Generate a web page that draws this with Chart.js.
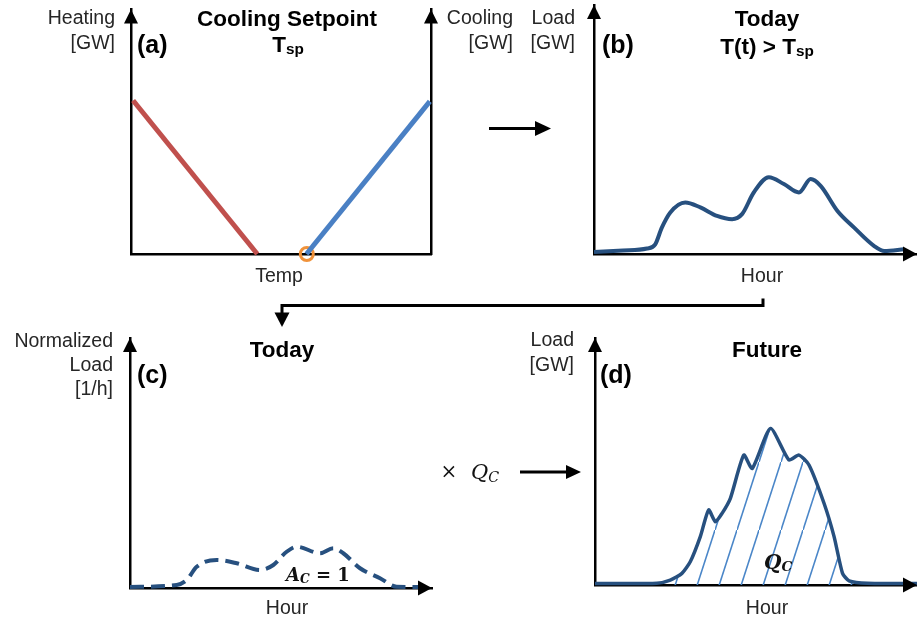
<!DOCTYPE html>
<html>
<head>
<meta charset="utf-8">
<script src="https://cdn.jsdelivr.net/npm/chart.js@4.4.1/dist/chart.umd.min.js"></script>
<style>
  body { margin: 0; width: 917px; height: 624px; overflow: hidden; background: #fff; position: relative;
         font-family: "Liberation Sans", Arial, sans-serif; }
  canvas { position: absolute; }
  .txt { position: absolute; white-space: nowrap; line-height: 1; color: #262626; }
  .ttl { font-weight: bold; color: #000; }
  .math { font-family: "DejaVu Serif", serif; color: #111; }
  .sub { font-size: 0.68em; position: relative; top: 0.16em; }
  svg { position: absolute; left: 0; top: 0; }
</style>
</head>
<body>
<canvas id="chartA" width="324" height="266" style="left:119px;top:0px"></canvas>
<canvas id="chartB" width="347" height="266" style="left:582px;top:0px"></canvas>
<canvas id="chartC" width="326" height="274" style="left:118px;top:326px"></canvas>
<canvas id="chartD" width="346" height="271" style="left:583px;top:326px"></canvas>

<svg width="917" height="624">
  <line x1="489" y1="128.5" x2="538" y2="128.5" stroke="#000" stroke-width="3"/>
  <polygon points="551,128.5 535,121 535,136" fill="#000"/>
  <polyline points="763,298.5 763,305.5 282,305.5 282,314" fill="none" stroke="#000" stroke-width="3"/>
  <polygon points="282,327 274.5,312.5 289.5,312.5" fill="#000"/>
  <line x1="520" y1="472" x2="568" y2="472" stroke="#000" stroke-width="3"/>
  <polygon points="581,472 566,465 566,479" fill="#000"/>
</svg>

<script>
// (a) heating / cooling response around the setpoint
const heatTemp = [0.7, 42.1];
const heatLoad = [6.28, 0];
const coolTemp = [58.5, 99.6];
const coolLoad = [0, 6.24];
const setpointTemp = 58.6;

// (b) today's cooling load by hour
const hoursB = [0, 2.16, 3.93, 4.55, 5.04, 5.67, 6.78, 7.9, 9.14, 10.26, 11.0, 11.87, 12.99, 14.11, 15.23, 16.1, 16.84, 18.09, 19.33, 20.82, 21.57, 23.05];
const loadB = [0.08, 0.14, 0.22, 0.39, 1.06, 1.67, 2.07, 1.87, 1.53, 1.40, 1.60, 2.47, 3.08, 2.81, 2.47, 3.01, 2.74, 1.73, 1.06, 0.32, 0.12, 0.19];

// (c) normalized profile (area = 1)
const hoursC = [0, 3.71, 4.51, 5.30, 6.89, 8.48, 10.33, 11.39, 12.45, 13.25, 15.1, 16.16, 16.95, 18.28, 19.87, 21.19, 23.05];
const normC = [0.04, 0.12, 0.32, 0.85, 1.12, 0.99, 0.72, 0.92, 1.45, 1.65, 1.39, 1.59, 1.39, 0.79, 0.39, 0.05, 0.04];

// (d) future load scaled by Q_C
const hoursD = [0, 4.61, 5.61, 6.48, 7.10, 7.85, 8.47, 8.97, 9.47, 10.09, 11.09, 11.72, 13.08, 14.45, 15.2, 15.95, 17.07, 17.82, 18.45, 18.94, 20.31, 24];
const loadD = [0.06, 0.07, 0.2, 0.47, 0.94, 1.96, 3.04, 2.56, 2.90, 3.51, 5.26, 4.72, 6.34, 5.06, 5.26, 4.86, 3.31, 1.96, 0.47, 0.17, 0.07, 0.06];

const curveBlue = '#27507f';
const toXY = (xs, ys) => xs.map((x, i) => ({ x, y: ys[i] }));

// arrowheads at the ends of the axes
function head(ctx, x, y, dx, dy, len, half) {
  ctx.beginPath();
  ctx.moveTo(x, y);
  ctx.lineTo(x - dx * len - dy * half, y - dy * len + dx * half);
  ctx.lineTo(x - dx * len + dy * half, y - dy * len - dx * half);
  ctx.closePath();
  ctx.fill();
}
const axisArrows = {
  id: 'axisArrows',
  afterDraw(chart, args, opts) {
    const { ctx, chartArea: a, scales } = chart;
    ctx.save();
    ctx.fillStyle = '#000';
    (opts.up || []).forEach(id => head(ctx, scales[id].left, a.top, 0, -1, 14, 7));
    if (opts.right) head(ctx, a.right, scales.x.top, 1, 0, 14, 7.5);
    ctx.restore();
  }
};

function axis(extra) {
  return Object.assign({
    type: 'linear',
    grid: { display: false, drawTicks: false },
    ticks: { display: false },
    border: { display: true, color: '#000', width: 2.5 }
  }, extra);
}

function baseOptions(scales, arrows, padTop) {
  return {
    responsive: false,
    animation: false,
    events: [],
    layout: { padding: { left: 12, right: 12, top: padTop, bottom: 12 } },
    plugins: { legend: { display: false }, tooltip: { enabled: false }, axisArrows: arrows },
    elements: { point: { radius: 0 } },
    scales
  };
}

// diagonal hatching for the Q_C area
function hatch() {
  const c = document.createElement('canvas');
  c.width = 22; c.height = 68;
  const g = c.getContext('2d');
  g.strokeStyle = '#4a86c8';
  g.lineWidth = 1.6;
  g.beginPath();
  g.moveTo(-2, 74.2);
  g.lineTo(24, -6.2);
  g.stroke();
  return g.createPattern(c, 'repeat');
}

new Chart(document.getElementById('chartA'), {
  type: 'line',
  plugins: [axisArrows],
  data: {
    datasets: [
      { data: toXY(heatTemp, heatLoad), borderColor: '#c0504d', borderWidth: 5, clip: false },
      { data: toXY(coolTemp, coolLoad), borderColor: '#4a80c4', borderWidth: 5, clip: false },
      { data: [{ x: setpointTemp, y: 0 }], showLine: false, pointRadius: 6.5, pointBorderWidth: 3,
        pointBorderColor: '#f0923a', pointBackgroundColor: 'rgba(0,0,0,0)', clip: false }
    ]
  },
  options: baseOptions({
    x: axis({ min: 0, max: 100 }),
    y: axis({ min: 0, max: 10, position: 'left' }),
    yR: axis({ min: 0, max: 10, position: 'right' })
  }, { up: ['y', 'yR'], right: false }, 6)
});

new Chart(document.getElementById('chartB'), {
  type: 'line',
  plugins: [axisArrows],
  data: {
    datasets: [{ data: toXY(hoursB, loadB), borderColor: curveBlue, borderWidth: 4,
                 cubicInterpolationMode: 'monotone', clip: false }]
  },
  options: baseOptions({
    x: axis({ min: 0, max: 24 }),
    y: axis({ min: 0, max: 10 })
  }, { up: ['y'], right: true }, 5)
});

new Chart(document.getElementById('chartC'), {
  type: 'line',
  plugins: [axisArrows],
  data: {
    datasets: [{ data: toXY(hoursC, normC), borderColor: curveBlue, borderWidth: 4, borderDash: [14, 7],
                 cubicInterpolationMode: 'monotone', clip: false }]
  },
  options: baseOptions({
    x: axis({ min: 0, max: 24 }),
    y: axis({ min: 0, max: 10 })
  }, { up: ['y'], right: true }, 12)
});

new Chart(document.getElementById('chartD'), {
  type: 'line',
  plugins: [axisArrows],
  data: {
    datasets: [{ data: toXY(hoursD, loadD), borderColor: curveBlue, borderWidth: 3.5, tension: 0.2,
                 fill: 'origin', backgroundColor: hatch(), clip: false }]
  },
  options: baseOptions({
    x: axis({ min: 0, max: 24 }),
    y: axis({ min: 0, max: 10 })
  }, { up: ['y'], right: true }, 12)
});

// text placed by baseline
function put(html, x, base, size, align, cls) {
  const d = document.createElement('div');
  d.className = 'txt ' + (cls || '');
  d.innerHTML = html;
  d.style.fontSize = size + 'px';
  d.style.top = (base - 0.8465 * size) + 'px';
  d.style.left = x + 'px';
  if (align === 'right') d.style.transform = 'translateX(-100%)';
  if (align === 'center') d.style.transform = 'translateX(-50%)';
  document.body.appendChild(d);
}

const lab = 19.5, ttl = 22.5, tag = 25;
put('Heating', 115, 25, lab, 'right');
put('[GW]', 115, 50, lab, 'right');
put('Cooling', 513, 25, lab, 'right');
put('[GW]', 513, 50, lab, 'right');
put('Load', 575, 25, lab, 'right');
put('[GW]', 575, 50, lab, 'right');
put('Normalized', 113, 348, lab, 'right');
put('Load', 113, 372, lab, 'right');
put('[1/h]', 113, 396, lab, 'right');
put('Load', 574, 347, lab, 'right');
put('[GW]', 574, 372, lab, 'right');
put('Temp', 279, 283, lab, 'center');
put('Hour', 762, 283, lab, 'center');
put('Hour', 287, 615, lab, 'center');
put('Hour', 767, 615, lab, 'center');

put('Cooling Setpoint', 287, 27, ttl, 'center', 'ttl');
put('T<span class="sub">sp</span>', 288, 53, ttl, 'center', 'ttl');
put('Today', 767, 27, ttl, 'center', 'ttl');
put('T(t) &gt; T<span class="sub">sp</span>', 767, 55, ttl, 'center', 'ttl');
put('Today', 282, 358, ttl, 'center', 'ttl');
put('Future', 767, 358, ttl, 'center', 'ttl');

put('(a)', 137, 53, tag, 'left', 'ttl');
put('(b)', 602, 53, tag, 'left', 'ttl');
put('(c)', 137, 383, tag, 'left', 'ttl');
put('(d)', 600, 383, tag, 'left', 'ttl');

put('×', 449, 478, 20, 'center', 'math');
put('<i>Q</i><i class="sub">C</i>', 471, 480, 21, 'left', 'math');
put('<b><i>A</i><i class="sub">C</i> = 1</b>', 286, 581, 18, 'left', 'math');
put('<b><i>Q</i><i class="sub">C</i></b>', 764, 569, 20, 'left', 'math');
</script>
</body>
</html>
